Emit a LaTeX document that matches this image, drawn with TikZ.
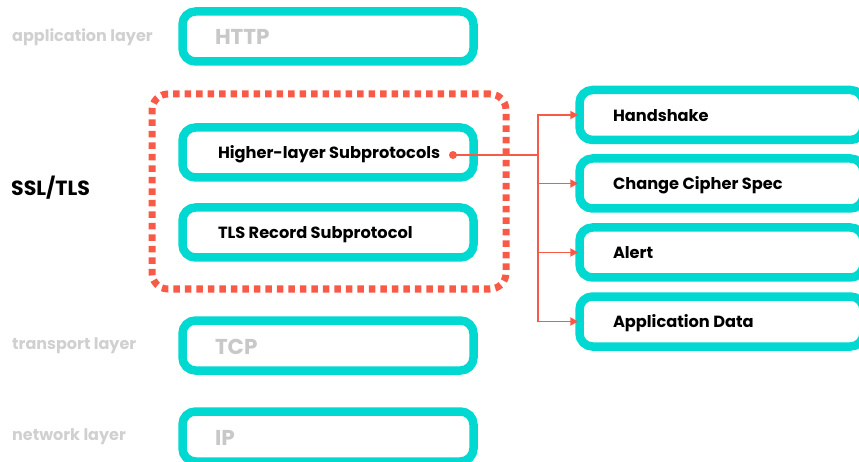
\documentclass[tikz,border=0pt]{standalone}
\usepackage{fontspec}
\setmainfont{Poppins}
\usetikzlibrary{arrows.meta}
\definecolor{cyanb}{HTML}{00D9D2}
\definecolor{redl}{HTML}{F95A48}
\definecolor{grayt}{HTML}{C8C8C8}
\definecolor{grayl}{HTML}{D0D0D0}
\newcommand\boxtxtL[1]{\makebox[220pt][l]{#1}}
\newcommand\boxtxtG[1]{\makebox[220pt][l]{\hspace{-3pt}#1}}
\newcommand\boxtxtR[1]{\makebox[217pt][l]{#1}}
\tikzset{
  box/.style={draw=cyanb, line width=8.5pt, rounded corners=13pt, fill=white,
    minimum height=50pt, inner ysep=0pt, text height=15.5pt, text depth=3pt,
    font=\fontsize{16.2}{19}\selectfont\bfseries},
  lbox/.style={box, inner xsep=35.5pt, minimum width=291pt},
  gbox/.style={lbox, text=grayt, text height=20pt, text depth=3pt,
    font=\fontsize{21.5}{25}\selectfont\bfseries},
  rbox/.style={box, inner xsep=33.5pt, minimum width=284pt},
  layer/.style={anchor=west, inner sep=0pt, font=\fontsize{16}{19}\selectfont\bfseries},
  conn/.style={draw=redl, line width=1.8pt},
  arr/.style={conn, -{Triangle[length=8pt,width=8pt]}},
}
\begin{document}
\begin{tikzpicture}[x=1pt,y=-1pt]
\useasboundingbox (0,0) rectangle (859,462);
\clip (0,0) rectangle (859,462);
% dotted SSL/TLS frame
\node (frame) [draw=redl, line width=7pt, dash pattern=on 6.5pt off 5pt, rounded corners=16pt,
  minimum width=354pt, minimum height=195pt, inner sep=0pt] at (329,191.5) {};
% left column
\node (http) [gbox] at (328,36.5) {\boxtxtG{HTTP}};
\node (hl) [lbox] at (328,152.5) {\boxtxtL{Higher-layer Subprotocols}};
\node (rec) [lbox] at (328,232.5) {\boxtxtL{TLS Record Subprotocol}};
\node (tcp) [gbox] at (328,345.5) {\boxtxtG{TCP}};
\node (ip) [gbox] at (328,436.5) {\boxtxtG{IP}};
% layer labels
\node (lapp) [layer, text=grayl] at (12,37) {application layer};
\node (lssl) [layer, font=\fontsize{20.5}{24}\selectfont\bfseries] at (11,188) {SSL/TLS};
\node (ltr) [layer, text=grayl] at (12,346) {transport layer};
\node (lnet) [layer, text=grayl] at (12,437) {network layer};
% right column
\node (hs) [rbox] at (721.5,115) {\boxtxtR{Handshake}};
\node (ccs) [rbox] at (721.5,183.5) {\boxtxtR{Change Cipher Spec}};
\node (al) [rbox] at (721.5,252.5) {\boxtxtR{Alert}};
\node (ad) [rbox] at (721.5,321.5) {\boxtxtR{Application Data}};
% connectors
\node (dot) [circle, fill=redl, minimum size=8pt, inner sep=0pt] at (453,155) {};
\coordinate (trunk) at (538,155);
\draw[conn] (dot.center) -- (trunk);
\draw[arr] (trunk) |- ([xshift=3pt]hs.west);
\draw[arr] (trunk) |- ([xshift=3pt]ccs.west);
\draw[arr] (trunk) |- ([xshift=3pt]al.west);
\draw[arr] (trunk) |- ([xshift=3pt]ad.west);
\end{tikzpicture}
\end{document}
